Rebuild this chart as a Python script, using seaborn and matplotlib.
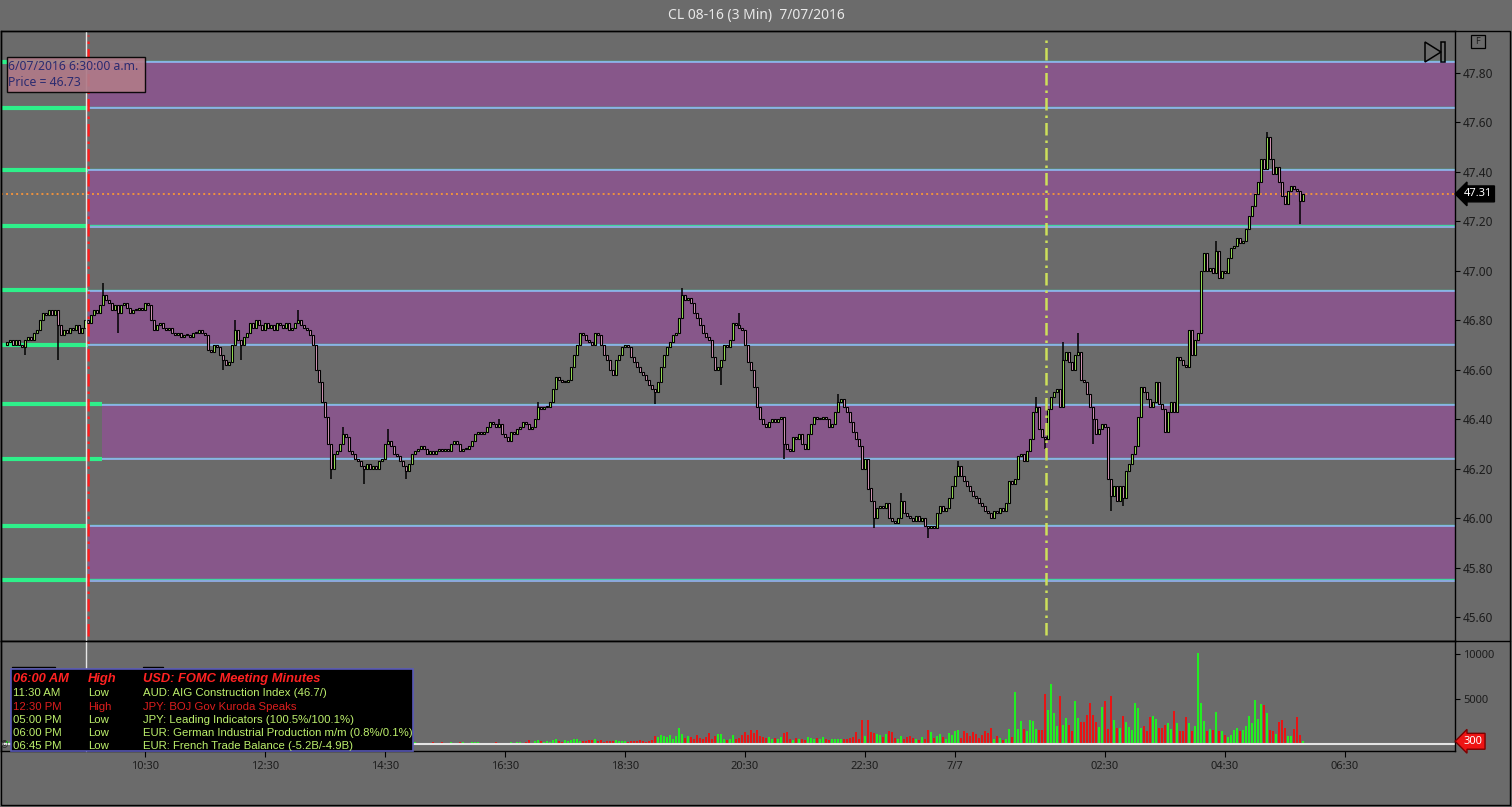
"""CL 08-16 3-minute chart with zone bands, volume pane and event table."""

import numpy as np
import pandas as pd
import matplotlib
matplotlib.use("Agg")
import matplotlib.pyplot as plt
import matplotlib.transforms as mtransforms
from matplotlib.patches import Rectangle, Polygon
from matplotlib.lines import Line2D
import seaborn as sns

# ---- data ----
first_open = 46.70
start_time = "2016-07-06 08:12"

closes = [
    46.71, 46.72, 46.70, 46.72, 46.70, 46.69, 46.72, 46.73, 46.72, 46.75,
    46.76, 46.80, 46.83, 46.82, 46.84, 46.82, 46.84, 46.78, 46.74, 46.76,
    46.75, 46.77, 46.76, 46.78, 46.75, 46.77, 46.80, 46.79, 46.82, 46.84,
    46.83, 46.86, 46.90, 46.88, 46.87, 46.84, 46.86, 46.83, 46.86, 46.87,
    46.85, 46.83, 46.84, 46.84, 46.85, 46.84, 46.87, 46.86, 46.80, 46.76,
    46.78, 46.79, 46.77, 46.76, 46.77, 46.75, 46.74, 46.75, 46.73, 46.74,
    46.74, 46.73, 46.75, 46.75, 46.76, 46.75, 46.74, 46.68, 46.67, 46.70,
    46.69, 46.66, 46.64, 46.62, 46.63, 46.70, 46.76, 46.72, 46.70, 46.73,
    46.75, 46.79, 46.77, 46.80, 46.78, 46.76, 46.79, 46.77, 46.78, 46.76,
    46.79, 46.78, 46.77, 46.79, 46.76, 46.77, 46.79, 46.80, 46.78, 46.77,
    46.76, 46.74, 46.70, 46.60, 46.55, 46.47, 46.41, 46.30, 46.20, 46.26,
    46.27, 46.30, 46.34, 46.33, 46.27, 46.26, 46.24, 46.23, 46.21, 46.20,
    46.22, 46.20, 46.21, 46.20, 46.23, 46.24, 46.30, 46.31, 46.29, 46.26,
    46.25, 46.23, 46.21, 46.19, 46.22, 46.26, 46.27, 46.28, 46.29, 46.28,
    46.26, 46.27, 46.26, 46.27, 46.28, 46.27, 46.28, 46.27, 46.30, 46.31,
    46.30, 46.27, 46.28, 46.28, 46.29, 46.31, 46.34, 46.35, 46.34, 46.35,
    46.37, 46.39, 46.38, 46.37, 46.38, 46.34, 46.33, 46.31, 46.35, 46.34,
    46.36, 46.37, 46.39, 46.38, 46.36, 46.37, 46.40, 46.45, 46.44, 46.45,
    46.45, 46.47, 46.52, 46.57, 46.56, 46.55, 46.55, 46.56, 46.61, 46.66,
    46.70, 46.75, 46.74, 46.72, 46.71, 46.70, 46.75, 46.74, 46.70, 46.66,
    46.64, 46.60, 46.58, 46.64, 46.66, 46.69, 46.70, 46.69, 46.65, 46.63,
    46.61, 46.59, 46.58, 46.56, 46.54, 46.52, 46.51, 46.55, 46.61, 46.66,
    46.69, 46.71, 46.74, 46.75, 46.81, 46.90, 46.88, 46.89, 46.87, 46.83,
    46.81, 46.78, 46.75, 46.73, 46.72, 46.65, 46.60, 46.61, 46.64, 46.70,
    46.69, 46.72, 46.79, 46.78, 46.77, 46.76, 46.70, 46.63, 46.60, 46.53,
    46.45, 46.40, 46.38, 46.37, 46.39, 46.40, 46.39, 46.40, 46.41, 46.30,
    46.28, 46.27, 46.33, 46.32, 46.34, 46.30, 46.28, 46.34, 46.38, 46.41,
    46.40, 46.40, 46.41, 46.40, 46.37, 46.38, 46.43, 46.47, 46.48, 46.45,
    46.43, 46.39, 46.35, 46.32, 46.29, 46.20, 46.24, 46.12, 46.07, 46.00,
    46.04, 46.05, 46.04, 46.06, 46.00, 45.99, 45.98, 46.00, 46.07, 46.02,
    46.01, 46.00, 45.99, 46.01, 45.99, 46.00, 45.97, 45.96, 45.97, 45.96,
    46.02, 46.05, 46.03, 46.04, 46.08, 46.13, 46.17, 46.21, 46.17, 46.15,
    46.13, 46.11, 46.09, 46.08, 46.06, 46.05, 46.03, 46.02, 46.00, 46.03,
    46.02, 46.04, 46.03, 46.06, 46.15, 46.14, 46.16, 46.25, 46.26, 46.23,
    46.27, 46.32, 46.43, 46.45, 46.36, 46.33, 46.32, 46.44, 46.49, 46.51,
    46.52, 46.45, 46.64, 46.67, 46.63, 46.60, 46.66, 46.67, 46.56, 46.55,
    46.50, 46.45, 46.40, 46.34, 46.36, 46.38, 46.37, 46.16, 46.09, 46.13,
    46.07, 46.13, 46.08, 46.19, 46.22, 46.26, 46.29, 46.41, 46.53, 46.51,
    46.48, 46.45, 46.47, 46.55, 46.46, 46.44, 46.35, 46.43, 46.47, 46.43,
    46.65, 46.64, 46.62, 46.61, 46.76, 46.66, 46.72, 46.75, 47.00, 47.07,
    47.00, 47.01, 46.99, 47.08, 46.97, 47.00, 46.99, 47.05, 47.09, 47.10,
    47.13, 47.11, 47.12, 47.17, 47.22, 47.26, 47.31, 47.36, 47.45, 47.41,
    47.54, 47.45, 47.39, 47.42, 47.36, 47.30, 47.27, 47.32, 47.34, 47.33,
    47.32, 47.28, 47.31,
]

volumes = [
    300, 200, 400, 250, 200, 350, 300, 150, 200, 300,
    400, 500, 450, 300, 350, 250, 300, 500, 400, 300,
    250, 300, 200, 350, 300, 250, 600, 700, 800, 650,
    900, 700, 800, 600, 500, 550, 400, 450, 500, 350,
    400, 300, 350, 300, 250, 300, 400, 350, 500, 450,
    300, 250, 300, 200, 250, 300, 200, 250, 300, 200,
    200, 250, 300, 200, 250, 200, 300, 450, 400, 350,
    300, 350, 400, 350, 300, 450, 500, 400, 350, 300,
    300, 350, 250, 300, 250, 200, 300, 250, 200, 250,
    200, 250, 300, 200, 250, 300, 250, 200, 250, 300,
    350, 400, 350, 600, 700, 900, 1100, 1300, 1200, 800,
    700, 600, 500, 400, 350, 400, 300, 350, 400, 300,
    250, 300, 250, 200, 300, 250, 450, 400, 300, 250,
    300, 250, 300, 350, 300, 150, 200, 100, 150, 100,
    150, 100, 200, 150, 100, 250, 100, 150, 200, 100,
    150, 250, 200, 100, 150, 200, 250, 200, 150, 100,
    150, 100, 150, 200, 150, 100, 150, 100, 200, 150,
    250, 200, 150, 200, 400, 150, 300, 450, 300, 250,
    350, 250, 400, 500, 300, 250, 400, 300, 450, 600,
    500, 350, 300, 350, 400, 450, 550, 300, 400, 250,
    300, 350, 300, 450, 300, 350, 300, 250, 350, 300,
    350, 400, 300, 250, 350, 400, 900, 800, 1000, 900,
    800, 1000, 600, 900, 1800, 1100, 700, 900, 800, 600,
    1000, 700, 500, 800, 1200, 600, 900, 1100, 1100, 500,
    400, 600, 1000, 500, 700, 1000, 1300, 1000, 1500, 1200,
    1500, 900, 800, 700, 800, 600, 700, 500, 800, 1200,
    1300, 500, 400, 700, 500, 600, 400, 800, 700, 500,
    700, 500, 800, 500, 400, 500, 600, 500, 500, 600,
    500, 700, 800, 1300, 600, 2700, 900, 2700, 1300, 1200,
    1100, 1000, 800, 1100, 1400, 1300, 700, 600, 900, 500,
    800, 900, 700, 500, 400, 800, 600, 1500, 1300, 700,
    900, 1100, 800, 600, 1200, 1000, 1400, 1600, 700, 1400,
    1200, 900, 1300, 1100, 700, 1000, 1400, 1200, 1800, 600,
    900, 700, 400, 600, 1700, 800, 5800, 1700, 2500, 1700,
    1400, 2700, 2600, 1700, 1600, 1600, 5600, 3800, 6700, 3400,
    2000, 5300, 2100, 2900, 2100, 1400, 4800, 2900, 2400, 2400,
    3200, 4500, 3200, 2400, 1900, 4100, 4800, 1700, 5300, 2700,
    1800, 1800, 3100, 2400, 1900, 1600, 4500, 4000, 1800, 2000,
    1400, 3000, 3100, 2800, 1800, 1800, 2100, 2300, 1700, 3700,
    2300, 1400, 1400, 3000, 2300, 1400, 2000, 10100, 4500, 2500,
    1400, 1700, 1600, 3500, 1400, 1400, 1000, 800, 1000, 1600,
    1800, 1400, 1500, 2000, 3100, 2300, 4900, 2800, 4400, 4300,
    3400, 1600, 1400, 1100, 2400, 2700, 1800, 900, 900, 1700,
    3000, 1000, 300,
]

# long wicks: bar index and the price the wick reaches
spike_at = [6, 17, 32, 37, 72, 76, 78, 97, 108, 112, 119, 127, 133, 164, 177,
            216, 225, 238, 244, 259, 277, 289, 298, 307, 317, 343, 346, 352,
            357, 362, 368, 372, 403, 420, 431]
spike_to = [46.66, 46.64, 46.95, 46.75, 46.60, 46.80, 46.64, 46.84, 46.16, 46.37,
            46.14, 46.36, 46.16, 46.40, 46.47, 46.46, 46.93, 46.54, 46.83, 46.24,
            46.50, 45.96, 46.10, 45.92, 46.23, 46.49, 46.28, 46.71, 46.75, 46.30,
            46.03, 46.05, 47.12, 47.56, 47.19]

# zone bands
band_top = [47.843, 47.407, 46.92, 46.46, 45.97]
band_bot = [47.657, 47.18, 46.70, 46.24, 45.75]
band_start = ["2016-07-06 09:33", "2016-07-06 09:33", "2016-07-06 09:33",
              "2016-07-06 09:47", "2016-07-06 09:33"]

session_line = "2016-07-06 09:33"
crosshair = "2016-07-06 09:31"
event_line = "2016-07-07 01:31"
view_start = "2016-07-06 08:06"
view_end = "2016-07-07 08:20"
last_price = 47.31

tick_times = ["2016-07-06 10:30", "2016-07-06 12:30", "2016-07-06 14:30",
              "2016-07-06 16:30", "2016-07-06 18:30", "2016-07-06 20:30",
              "2016-07-06 22:30", "2016-07-07 00:00", "2016-07-07 02:30",
              "2016-07-07 04:30", "2016-07-07 06:30"]
tick_labels = ["10:30", "12:30", "14:30", "16:30", "18:30", "20:30",
               "22:30", "7/7", "02:30", "04:30", "06:30"]
price_ticks = [45.60, 45.80, 46.00, 46.20, 46.40, 46.60, 46.80,
               47.00, 47.20, 47.40, 47.60, 47.80]
price_lim = (45.504, 47.968)
vol_ticks = [5000, 10000]
vol_lim = (-780, 11440)

ev_time = ["06:00 AM", "11:30 AM", "12:30 PM", "05:00 PM", "06:00 PM", "06:45 PM"]
ev_imp = ["High", "Low", "High", "Low", "Low", "Low"]
ev_text = ["USD: FOMC Meeting Minutes",
           "AUD: AIG Construction Index (46.7/)",
           "JPY: BOJ Gov Kuroda Speaks",
           "JPY: Leading Indicators (100.5%/100.1%)",
           "EUR: German Industrial Production m/m (0.8%/0.1%)",
           "EUR: French Trade Balance (-5.2B/-4.9B)"]

# ---- colours ----
BG = "#6b6b6b"
BAND = "#87578a"
UP_BODY = "#a4f25a"
DN_BODY = "#e4a0c4"
VOL_UP = "#22ee22"
VOL_DN = "#e81414"
EV_GREEN = "#bdf06c"
EV_RED = "#ff2222"

sns.set_style("ticks", {"axes.facecolor": BG, "figure.facecolor": BG,
                        "axes.edgecolor": "black"})
plt.rcParams["font.family"] = ["Noto Sans", "DejaVu Sans"]

W, H = 1512, 807


def fx(px):
    return px / W


def fy(py):
    return 1 - py / H


t0 = pd.Timestamp(start_time)


def idx(t):
    return (pd.Timestamp(t) - t0) / pd.Timedelta("3min")


c = np.array(closes)
o = np.r_[first_open, c[:-1]]
x = np.arange(len(c))
hi = np.maximum(o, c)
lo = np.minimum(o, c)
for i, p in zip(spike_at, spike_to):
    hi[i] = max(hi[i], p)
    lo[i] = min(lo[i], p)
up = c >= o

fig = plt.figure(figsize=(W / 100, H / 100), dpi=100, facecolor=BG)
ax = fig.add_axes([fx(1), fy(641), fx(1455) - fx(1), fy(31) - fy(641)])
axv = fig.add_axes([fx(1), fy(751), fx(1455) - fx(1), fy(641) - fy(751)], sharex=ax)

xl = (idx(view_start), idx(view_end))

# zone bands
for top, bot, st in zip(band_top, band_bot, band_start):
    xs = idx(st)
    ax.fill_between([xs, xl[1]], bot, top, color=BAND, lw=0, zorder=1)
    for lev in (top, bot):
        ax.plot([xs, xl[1]], [lev + 0.003, lev + 0.003], color="#3fd6a0", lw=1.0, zorder=2)
        ax.plot([xs, xl[1]], [lev - 0.002, lev - 0.002], color="#93b2f0", lw=1.2, zorder=2)
        ax.plot([xl[0], xs], [lev, lev], color="#2ef08a", lw=3, zorder=2,
                solid_capstyle="butt")

ax.axhline(last_price, color="#f0923c", lw=1.4, ls=(0, (1, 1.6)), zorder=2)
ax.axvline(idx(session_line), ymin=5 / 610, ymax=606 / 610, color="#ff1c1c",
           lw=1.8, ls=(0, (5, 2, 1, 2)), zorder=5)
ax.axvline(idx(event_line), ymin=6 / 610, ymax=606 / 610, color="#cde05a",
           lw=1.8, ls=(0, (5, 2, 1, 2)), zorder=5)

# candles
ax.vlines(x, lo, hi, color="black", lw=1.1, zorder=3)
body = np.maximum(np.abs(c - o), 0.004)
ax.bar(x[up], body[up], bottom=o[up], width=0.74, color=UP_BODY,
       edgecolor="black", linewidth=0.8, zorder=4)
ax.bar(x[~up], body[~up], bottom=c[~up], width=0.74, color=DN_BODY,
       edgecolor="black", linewidth=0.8, zorder=4)

ax.set_xlim(*xl)
ax.set_ylim(*price_lim)
ax.set_yticks(price_ticks)
ax.set_yticklabels([f"{v:.2f}" for v in price_ticks])
ax.yaxis.tick_right()
ax.tick_params(axis="y", right=True, left=False, direction="out", length=3.6,
               width=0.8, color="black", labelcolor="#1c1c1c", labelsize=8.5, pad=2)
ax.tick_params(axis="x", bottom=False, labelbottom=False)
ax.set_xlabel("")
ax.set_ylabel("")
ax.grid(False)
for s in ax.spines.values():
    s.set_color("black")
    s.set_linewidth(1)

# volume pane
vdf = pd.DataFrame({"x": x, "vol": volumes, "dir": np.where(up, "up", "down")})
sns.barplot(data=vdf, x="x", y="vol", hue="dir", palette={"up": VOL_UP, "down": VOL_DN},
            native_scale=True, dodge=False, width=0.7, errorbar=None, legend=False,
            saturation=1, linewidth=0, orient="x", ax=axv)
axv.axhline(0, color="#e4e4e4", lw=1.5, zorder=1)
axv.set_xlim(*xl)
axv.set_ylim(*vol_lim)
axv.set_yticks(vol_ticks)
axv.set_yticklabels([str(v) for v in vol_ticks])
axv.yaxis.tick_right()
axv.tick_params(axis="y", right=True, left=False, direction="out", length=3.6,
                width=0.8, color="black", labelcolor="#1c1c1c", labelsize=8, pad=2)
axv.set_xticks([idx(t) for t in tick_times])
axv.set_xticklabels(tick_labels)
axv.tick_params(axis="x", bottom=True, direction="out", length=4.5, width=0.8,
                color="black", labelcolor="#1c1c1c", labelsize=8, pad=3)
axv.set_xlabel("")
axv.set_ylabel("")
axv.grid(False)
for s in axv.spines.values():
    s.set_color("black")
    s.set_linewidth(1)

# right-side value flags
trans_p = mtransforms.blended_transform_factory(ax.transAxes, ax.transData)
ax.text(1.006, last_price, f"{last_price:.2f}", transform=trans_p, ha="left", va="center",
        color="white", fontsize=8, clip_on=False, zorder=10,
        bbox=dict(boxstyle="larrow,pad=0.22", fc="black", ec="black"))
trans_v = mtransforms.blended_transform_factory(axv.transAxes, axv.transData)
axv.text(1.006, volumes[-1], str(volumes[-1]), transform=trans_v, ha="left", va="center",
         color="white", fontsize=8, clip_on=False, zorder=10,
         bbox=dict(boxstyle="larrow,pad=0.22", fc="#ee1414", ec="#7a0000"))

# frame and crosshair
xc = 7 + 3 * idx(crosshair)
fig.add_artist(Line2D([fx(xc), fx(xc)], [fy(31), fy(751)], color="#e6e6e6", lw=1, zorder=3))
fig.add_artist(Line2D([fx(1), fx(1510)], [fy(641), fy(641)], color="black", lw=1, zorder=3))
fig.add_artist(Rectangle((fx(1), fy(805)), fx(1509), fy(31) - fy(805), fill=False,
                         ec="black", lw=1, transform=fig.transFigure, zorder=3))

# title
fig.text(0.5, fy(16), "CL 08-16 (3 Min)  7/07/2016", ha="center", va="center",
         color="#e8e8e8", fontsize=10)

# tooltip
fig.add_artist(Rectangle((fx(7), fy(92)), fx(138), fy(57) - fy(92), fc="#b07a88",
                         ec="black", lw=1, alpha=0.92, transform=fig.transFigure, zorder=6))
fig.text(fx(8), fy(66), "6/07/2016 6:30:00 a.m.", ha="left", va="center",
         color="#2b2b70", fontsize=8.8, zorder=7)
fig.text(fx(8), fy(83), "Price = 46.73", ha="left", va="center",
         color="#2b2b70", fontsize=8.8, zorder=7)

# playback icon and F box
fig.add_artist(Polygon([(fx(1425), fy(42)), (fx(1425), fy(62)), (fx(1441), fy(52))],
                       closed=True, fill=False, ec="black", lw=1.1,
                       transform=fig.transFigure, zorder=6))
fig.add_artist(Rectangle((fx(1441), fy(62)), fx(4), fy(42) - fy(62), fill=False,
                         ec="black", lw=1.1, transform=fig.transFigure, zorder=6))
fig.add_artist(Rectangle((fx(1471), fy(48)), fx(14), fy(35) - fy(48), fill=False,
                         ec="black", lw=0.9, transform=fig.transFigure, zorder=6))
fig.text(fx(1478), fy(41.5), "F", ha="center", va="center", color="#1c1c1c",
         fontsize=6.5, zorder=7)

# event table
fig.add_artist(Line2D([fx(12), fx(55)], [fy(667), fy(667)], color="black", lw=1, zorder=6))
fig.add_artist(Line2D([fx(143), fx(163)], [fy(667), fy(667)], color="black", lw=1, zorder=6))
fig.add_artist(Rectangle((fx(11), fy(751)), fx(402), fy(669) - fy(751), fc="black",
                         ec="#5a5ab8", lw=1.2, transform=fig.transFigure, zorder=6))
row_y = [679, 693, 707, 720, 733, 746]
for k, (tm, imp, txt) in enumerate(zip(ev_time, ev_imp, ev_text)):
    if k == 0:
        kw = dict(color=EV_RED, fontsize=9.3, fontweight="bold", fontstyle="italic")
    elif imp == "High":
        kw = dict(color="#dc1e1e", fontsize=8.2)
    else:
        kw = dict(color=EV_GREEN, fontsize=8.2)
    for colx, s in zip((13, 88, 143), (tm, imp, txt)):
        fig.text(fx(colx), fy(row_y[k]), s, ha="left", va="center",
                 family=["Liberation Sans", "DejaVu Sans"], zorder=8, **kw)
fig.text(fx(1), fy(745), "©", ha="left", va="center", color="#222222",
         fontsize=7, family=["Liberation Sans", "DejaVu Sans"], zorder=5)

fig.savefig("out.png", dpi=100, facecolor=BG)
